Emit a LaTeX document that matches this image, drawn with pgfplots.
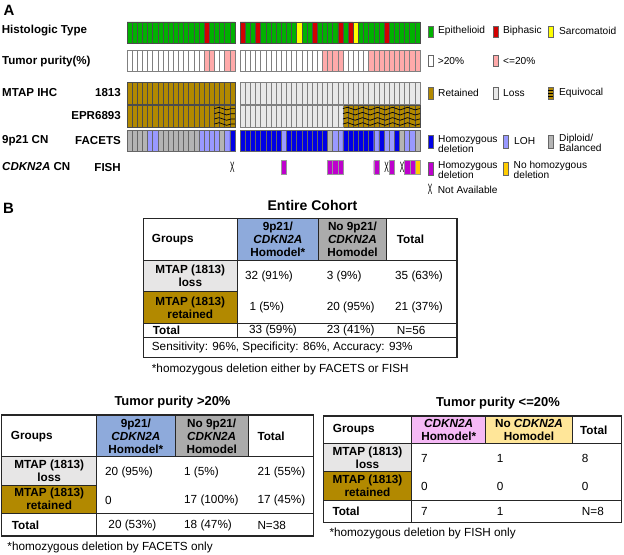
\documentclass[border=0pt]{standalone}
\usepackage{fontspec}
\setmainfont{Liberation Sans}
\usepackage{graphicx}
\usepackage{pgfplots}
\pgfplotsset{compat=1.18}
\usetikzlibrary{decorations.pathmorphing}

\definecolor{hgreen}{RGB}{0,178,0}
\definecolor{hred}{RGB}{210,0,0}
\definecolor{hyel}{RGB}{255,255,0}
\definecolor{ppink}{RGB}{255,170,170}
\definecolor{gold}{RGB}{178,137,0}
\definecolor{lossg}{RGB}{232,232,232}
\definecolor{homblue}{RGB}{0,0,230}
\definecolor{lohc}{RGB}{153,153,255}
\definecolor{dipg}{RGB}{180,180,180}
\definecolor{fmag}{RGB}{190,0,205}
\definecolor{fgold}{RGB}{255,204,0}
\definecolor{thblue}{RGB}{142,170,219}
\definecolor{thgray}{RGB}{171,171,171}
\definecolor{tloss}{RGB}{231,230,230}
\definecolor{thpink}{RGB}{245,185,245}
\definecolor{thyel}{RGB}{255,230,153}

\newcommand{\na}{\scalebox{0.45}[1.0]{\fontsize{15}{15}\selectfont X}}

\pgfplotsset{
  onco/.style={anchor=north west, scale only axis, width=293bp,
    xmin=0, xmax=57, ymin=0, ymax=1, hide axis, clip=false},
  cell/.style={ybar, bar width=1, bar shift=0pt, line width=0.45pt, fill=#1},
}
\tikzset{wave/.style={decorate, decoration={snake, segment length=15bp, amplitude=1.3bp}, line width=0.7pt}}

\begin{document}
\begin{tikzpicture}
\path[use as bounding box] (0,0) rectangle (624bp,-555bp);

% ---- histologic type
\begin{axis}[onco, at={(127bp,-22bp)}, height=21.3bp]
\addplot[cell=hgreen, draw=black!70] coordinates {(0.5,1)(1.5,1)(2.5,1)(3.5,1)(4.5,1)(5.5,1)(6.5,1)(7.5,1)(8.5,1)(9.5,1)(10.5,1)(11.5,1)(12.5,1)(13.5,1)(14.5,1)(16.5,1)(17.5,1)(18.5,1)(19.5,1)(20.5,1)
 (23.5,1)(24.5,1)(26.5,1)(27.5,1)(28.5,1)(29.5,1)(30.5,1)(31.5,1)(32.5,1)(34.5,1)(35.5,1)(37.5,1)(38.5,1)(39.5,1)(40.5,1)(42.5,1)(45.5,1)(46.5,1)(47.5,1)(48.5,1)(49.5,1)(51.5,1)(52.5,1)(53.5,1)(54.5,1)(55.5,1)(56.5,1)};
\addplot[cell=hred, draw=black!70] coordinates {(15.5,1)(22.5,1)(25.5,1)(36.5,1)(41.5,1)(43.5,1)(50.5,1)};
\addplot[cell=hyel, draw=black!70] coordinates {(33.5,1)(44.5,1)};
\end{axis}

% ---- tumor purity
\begin{axis}[onco, at={(127bp,-50bp)}, height=21bp]
\addplot[cell=white, draw=gray] coordinates {(0.5,1)(1.5,1)(2.5,1)(3.5,1)(4.5,1)(5.5,1)(6.5,1)(7.5,1)(8.5,1)(9.5,1)(10.5,1)(11.5,1)(12.5,1)(13.5,1)(14.5,1)(17.5,1)(18.5,1)
 (22.5,1)(23.5,1)(24.5,1)(25.5,1)(26.5,1)(27.5,1)(28.5,1)(29.5,1)(30.5,1)(31.5,1)(32.5,1)(33.5,1)(34.5,1)(35.5,1)(36.5,1)(37.5,1)(42.5,1)(43.5,1)(44.5,1)(45.5,1)(46.5,1)};
\addplot[cell=ppink, draw=gray] coordinates {(15.5,1)(16.5,1)(19.5,1)(20.5,1)(38.5,1)(39.5,1)(40.5,1)(41.5,1)
 (47.5,1)(48.5,1)(49.5,1)(50.5,1)(51.5,1)(52.5,1)(53.5,1)(54.5,1)(55.5,1)(56.5,1)};
\end{axis}

% ---- MTAP IHC 1813
\begin{axis}[onco, at={(127bp,-82.3bp)}, height=21.5bp]
\addplot[cell=gold, draw=black!70] coordinates {(0.5,1)(1.5,1)(2.5,1)(3.5,1)(4.5,1)(5.5,1)(6.5,1)(7.5,1)(8.5,1)(9.5,1)(10.5,1)(11.5,1)(12.5,1)(13.5,1)(14.5,1)(15.5,1)(16.5,1)(17.5,1)(18.5,1)(19.5,1)(20.5,1)};
\addplot[cell=lossg, draw=gray] coordinates {(22.5,1)(23.5,1)(24.5,1)(25.5,1)(26.5,1)(27.5,1)(28.5,1)(29.5,1)(30.5,1)(31.5,1)(32.5,1)(33.5,1)(34.5,1)(35.5,1)(36.5,1)(37.5,1)(38.5,1)(39.5,1)(40.5,1)(41.5,1)(42.5,1)(43.5,1)(44.5,1)(45.5,1)(46.5,1)(47.5,1)(48.5,1)(49.5,1)(50.5,1)(51.5,1)(52.5,1)(53.5,1)(54.5,1)(55.5,1)(56.5,1)};
\end{axis}

% ---- MTAP IHC EPR6893
\begin{axis}[onco, at={(127bp,-105.3bp)}, height=22bp]
\addplot[cell=gold, draw=black!70] coordinates {(0.5,1)(1.5,1)(2.5,1)(3.5,1)(4.5,1)(5.5,1)(6.5,1)(7.5,1)(8.5,1)(9.5,1)(10.5,1)(11.5,1)(12.5,1)(13.5,1)(14.5,1)(15.5,1)(16.5,1)(17.5,1)(18.5,1)(19.5,1)(20.5,1)
 (42.5,1)(43.5,1)(44.5,1)(45.5,1)(46.5,1)(47.5,1)(48.5,1)(49.5,1)(50.5,1)(51.5,1)(52.5,1)(53.5,1)(54.5,1)(55.5,1)(56.5,1)};
\addplot[cell=lossg, draw=gray] coordinates {(22.5,1)(23.5,1)(24.5,1)(25.5,1)(26.5,1)(27.5,1)(28.5,1)(29.5,1)(30.5,1)(31.5,1)(32.5,1)(33.5,1)(34.5,1)(35.5,1)(36.5,1)(37.5,1)(38.5,1)(39.5,1)(40.5,1)(41.5,1)};
% equivocal waves
\draw[wave] (axis cs:17,0.15) -- (axis cs:21,0.15);
\draw[wave] (axis cs:17,0.38) -- (axis cs:21,0.38);
\draw[wave] (axis cs:17,0.62) -- (axis cs:21,0.62);
\draw[wave] (axis cs:17,0.85) -- (axis cs:21,0.85);
\draw[wave] (axis cs:42,0.15) -- (axis cs:57,0.15);
\draw[wave] (axis cs:42,0.38) -- (axis cs:57,0.38);
\draw[wave] (axis cs:42,0.62) -- (axis cs:57,0.62);
\draw[wave] (axis cs:42,0.85) -- (axis cs:57,0.85);
\end{axis}

% ---- 9p21 CN FACETS
\begin{axis}[onco, at={(127bp,-130bp)}, height=21.3bp]
\addplot[cell=dipg, draw=gray!80!black] coordinates {(0.5,1)(1.5,1)(2.5,1)(3.5,1)(6.5,1)(7.5,1)(8.5,1)(9.5,1)(10.5,1)(11.5,1)(12.5,1)(13.5,1)(18.5,1)
 (39.5,1)(53.5,1)(56.5,1)};
\addplot[cell=lohc, draw=gray!80!black] coordinates {(4.5,1)(5.5,1)(14.5,1)(15.5,1)(16.5,1)(17.5,1)(19.5,1)
 (30.5,1)(40.5,1)(41.5,1)(48.5,1)(50.5,1)(51.5,1)(54.5,1)(55.5,1)};
\addplot[cell=homblue, draw=black!60] coordinates {(20.5,1)(22.5,1)(23.5,1)(24.5,1)(25.5,1)(26.5,1)(27.5,1)(28.5,1)(29.5,1)
 (31.5,1)(32.5,1)(33.5,1)(34.5,1)(35.5,1)(36.5,1)(37.5,1)(38.5,1)(42.5,1)(43.5,1)(44.5,1)(45.5,1)(46.5,1)(47.5,1)(49.5,1)(52.5,1)};
\end{axis}

% ---- CDKN2A CN FISH
\begin{axis}[onco, at={(127bp,-160.7bp)}, height=13.3bp]
\addplot[cell=fmag, draw=black!40] coordinates {(30.5,1)(39.5,1)(40.5,1)(41.5,1)(48.5,1)(51.5,1)(54.5,1)(55.5,1)};
\addplot[cell=fgold, draw=black!40] coordinates {(56.5,1)};
\addplot[only marks, mark=text, text mark={\na}] coordinates {(20.5,0.5)(50.5,0.5)(53.5,0.5)};
\end{axis}

\begin{scope}[x=1bp, y=-1bp,
  lab/.style={font=\fontsize{11.6}{13}\selectfont\bfseries, inner sep=0pt},
  leg/.style={font=\fontsize{10.2}{10.3}\selectfont, inner sep=0pt, anchor=west, align=left},
  tt/.style={font=\fontsize{11.8}{13.2}\selectfont, inner sep=0pt, anchor=west},
  tb/.style={font=\fontsize{11.8}{13.2}\selectfont\bfseries, inner sep=0pt, align=center},
  tl/.style={line width=1bp, draw=black!85},
  to/.style={line width=1.4bp, draw=black!85},
  lbox/.style={draw=black!60, line width=0.4pt}]

% panel letters and row labels
\node[font=\fontsize{15}{15}\selectfont\bfseries, anchor=west, inner sep=0pt] at (3.5,10) {A};
\node[font=\fontsize{15}{15}\selectfont\bfseries, anchor=west, inner sep=0pt] at (3,208.5) {B};
\node[lab, anchor=west] at (1.7,31) {Histologic Type};
\node[lab, anchor=west] at (2,61.5) {Tumor purity(\%)};
\node[lab, anchor=west] at (2,93) {MTAP IHC};
\node[lab, anchor=east] at (121,93) {1813};
\node[lab, anchor=east] at (121,115.5) {EPR6893};
\node[lab, anchor=west] at (2,140.5) {9p21 CN};
\node[lab, anchor=east] at (121,140.5) {FACETS};
\node[lab, anchor=west] at (2,167) {\textit{CDKN2A} CN};
\node[lab, anchor=east] at (121,167.5) {FISH};

% legend
\filldraw[lbox, fill=hgreen] (427.7,26) rectangle (432.7,36.7);
\node[leg] at (438,31) {Epithelioid};
\filldraw[lbox, fill=hred] (492.7,26) rectangle (497.7,36.7);
\node[leg] at (503,31) {Biphasic};
\filldraw[lbox, fill=hyel] (548,26) rectangle (553,36.7);
\node[leg] at (559,31) {Sarcomatoid};

\filldraw[lbox, fill=white] (427.7,55.5) rectangle (432.7,66.5);
\node[leg] at (437.7,61) {>20\%};
\filldraw[lbox, fill=ppink] (492.7,55.5) rectangle (497.7,66.5);
\node[leg] at (503,61) {<=20\%};

\filldraw[lbox, fill=gold] (427.7,87) rectangle (432.7,99);
\node[leg] at (438,93) {Retained};
\filldraw[lbox, fill=lossg] (492.7,87) rectangle (497.7,99);
\node[leg] at (503,93) {Loss};
\filldraw[lbox, fill=gold] (548,87) rectangle (553,99);
\draw[line width=0.6pt] (548,90) -- (553,90) (548,93) -- (553,93) (548,96) -- (553,96);
\node[leg] at (559,92.5) {Equivocal};

\filldraw[lbox, fill=homblue] (427.7,135) rectangle (432.7,148);
\node[leg] at (438,144) {Homozygous\\deletion};
\filldraw[lbox, fill=lohc] (503.3,135) rectangle (508.3,148);
\node[leg] at (514,141.5) {LOH};
\filldraw[lbox, fill=dipg] (548.3,135) rectangle (553.3,148);
\node[leg] at (559,143) {Diploid/\\Balanced};

\filldraw[lbox, fill=fmag] (427.7,161.7) rectangle (432.7,175);
\node[leg] at (438,170) {Homozygous\\deletion};
\filldraw[lbox, fill=fgold] (503.3,161.7) rectangle (508.3,175);
\node[leg] at (513.5,170) {No homozygous\\deletion};
\node[inner sep=0pt] at (430.2,189.5) {\na};
\node[leg] at (437.7,189.5) {Not Available};

% ---- table: entire cohort
\node[font=\fontsize{14.1}{15}\selectfont\bfseries, inner sep=0pt] at (312.5,205) {Entire Cohort};
\fill[thblue] (237.3,218.3) rectangle (318.3,260);
\fill[thgray] (318.3,218.3) rectangle (386.7,260);
\fill[tloss] (143.3,260) rectangle (237.3,291.7);
\fill[gold] (143.3,291.7) rectangle (237.3,323.3);
\draw[tl] (143.3,260) -- (457,260) (143.3,291.7) -- (237.3,291.7)
  (143.3,323.3) -- (457,323.3) (143.3,337.3) -- (457,337.3);
\draw[tl] (237.3,218.3) -- (237.3,337.3) (318.3,218.3) -- (318.3,260) (386.7,218.3) -- (386.7,260);
\draw[to] (143.3,218.3) rectangle (457,357.3);
\node[tb, anchor=west] at (151.7,239.5) {Groups};
\node[tb] at (277.8,239.2) {9p21/\\\textit{CDKN2A}\\Homodel*};
\node[tb] at (352.5,239.2) {No 9p21/\\\textit{CDKN2A}\\Homodel};
\node[tb, anchor=west] at (396.7,239.5) {Total};
\node[tb] at (190.3,276) {MTAP (1813)\\loss};
\node[tb] at (190.3,307.5) {MTAP (1813)\\retained};
\node[tt] at (245,276) {32 (91\%)};
\node[tt] at (326.7,276) {3 (9\%)};
\node[tt] at (395,276) {35 (63\%)};
\node[tt] at (249.3,307.5) {1 (5\%)};
\node[tt] at (326.7,307.5) {20 (95\%)};
\node[tt] at (395,307.5) {21 (37\%)};
\node[tb, anchor=west] at (152.7,330.5) {Total};
\node[tt] at (249,330.5) {33 (59\%)};
\node[tt] at (326.7,330.5) {23 (41\%)};
\node[tt] at (396.7,330.5) {N=56};
\node[tt] at (151.7,347.5) {Sensitivity: 96\%, Specificity: 86\%, Accuracy: 93\%};
\node[tt] at (151.7,369) {*homozygous deletion either by FACETS or FISH};

% ---- table: tumor purity >20%
\node[font=\fontsize{13}{14}\selectfont\bfseries, inner sep=0pt] at (172.5,401.7) {Tumor purity >20\%};
\fill[thblue] (96.7,415) rectangle (175,456.7);
\fill[thgray] (175,415) rectangle (248.3,456.7);
\fill[tloss] (1.7,456.7) rectangle (96.7,485);
\fill[gold] (1.7,485) rectangle (96.7,513.3);
\draw[tl] (1.7,456.7) -- (313.3,456.7) (1.7,485) -- (96.7,485) (1.7,513.3) -- (313.3,513.3);
\draw[tl] (96.7,415) -- (96.7,536) (175,415) -- (175,456.7) (248.3,415) -- (248.3,456.7);
\draw[to] (1.7,415) rectangle (313.3,536);
\node[tb, anchor=west] at (10.7,436.5) {Groups};
\node[tb] at (135.8,436) {9p21/\\\textit{CDKN2A}\\Homodel*};
\node[tb] at (211.7,436) {No 9p21/\\\textit{CDKN2A}\\Homodel};
\node[tb, anchor=west] at (257.3,436.5) {Total};
\node[tb] at (49.2,471) {MTAP (1813)\\loss};
\node[tb] at (49.2,499.2) {MTAP (1813)\\retained};
\node[tt] at (105,472) {20 (95\%)};
\node[tt] at (184,472) {1 (5\%)};
\node[tt] at (257.3,472) {21 (55\%)};
\node[tt] at (105,500) {0};
\node[tt] at (184,500) {17 (100\%)};
\node[tt] at (257.3,500) {17 (45\%)};
\node[tb, anchor=west] at (11.7,525) {Total};
\node[tt] at (108.3,525) {20 (53\%)};
\node[tt] at (184,525) {18 (47\%)};
\node[tt] at (257.3,525) {N=38};
\node[tt] at (7.3,547.7) {*homozygous deletion by FACETS only};

% ---- table: tumor purity <=20%
\node[font=\fontsize{13}{14}\selectfont\bfseries, inner sep=0pt] at (498,402.7) {Tumor purity <=20\%};
\fill[thpink] (411.7,416) rectangle (485.7,443.3);
\fill[thyel] (485.7,416) rectangle (572.3,443.3);
\fill[tloss] (323.3,443.3) rectangle (411.7,471.7);
\fill[gold] (323.3,471.7) rectangle (411.7,500);
\draw[tl] (323.3,443.3) -- (621.7,443.3) (323.3,471.7) -- (411.7,471.7) (323.3,500) -- (621.7,500);
\draw[tl] (411.7,416) -- (411.7,522.7) (485.7,416) -- (485.7,443.3) (572.3,416) -- (572.3,443.3);
\draw[to] (323.3,416) rectangle (621.7,522.7);
\node[tb, anchor=west] at (332.7,430) {Groups};
\node[tb] at (448.7,429.7) {\textit{CDKN2A}\\Homodel*};
\node[tb] at (529,429.7) {No \textit{CDKN2A}\\Homodel};
\node[tb] at (593.7,430) {Total};
\node[tb] at (367.5,457.5) {MTAP (1813)\\loss};
\node[tb] at (367.5,485.8) {MTAP (1813)\\retained};
\node[tt] at (421,458) {7};
\node[tt] at (496.7,458) {1};
\node[tt] at (581.7,458) {8};
\node[tt] at (421,486) {0};
\node[tt] at (496.7,486) {0};
\node[tt] at (581.7,486) {0};
\node[tb, anchor=west] at (332.3,511.5) {Total};
\node[tt] at (421,511.5) {7};
\node[tt] at (496.7,511.5) {1};
\node[tt] at (581.7,511.5) {N=8};
\node[tt] at (329.3,533.3) {*homozygous deletion by FISH only};
\end{scope}
\end{tikzpicture}
\end{document}
